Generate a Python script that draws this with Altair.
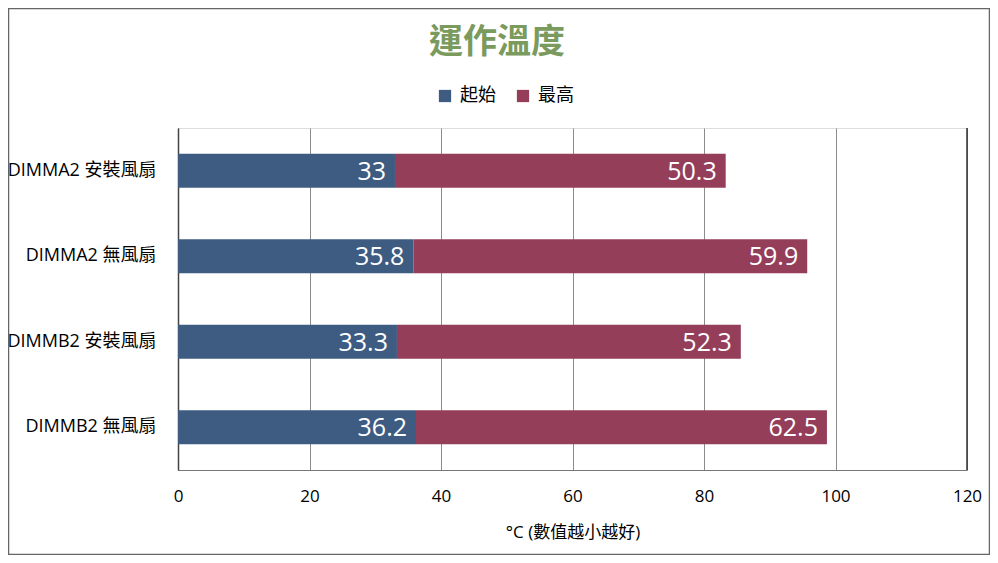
import altair as alt
import pandas as pd

title_text = "運作溫度"
categories = ["DIMMA2 安裝風扇", "DIMMA2 無風扇", "DIMMB2 安裝風扇", "DIMMB2 無風扇"]
start_vals = [33, 35.8, 33.3, 36.2]
max_vals = [50.3, 59.9, 52.3, 62.5]
series = ["起始", "最高"]
colors = ["#3E5C82", "#943E5A"]
x_ticks = [0, 20, 40, 60, 80, 100, 120]

rows = []
for c, s, m in zip(categories, start_vals, max_vals):
    rows.append({"cat": c, "series": series[0], "value": s, "order": 0, "end": s})
    rows.append({"cat": c, "series": series[1], "value": m, "order": 1, "end": s + m})
df = pd.DataFrame(rows)

FONT = "Noto Sans CJK TC"
LFONT = "'Open Sans', 'Noto Sans CJK TC'"
W, H = 789, 342

y_enc = alt.Y("cat:N", sort=categories, title=None,
              scale=alt.Scale(paddingInner=0.6, paddingOuter=0.3),
              axis=alt.Axis(labelFontSize=18, labelColor="#000000", labelFont=LFONT,
                            ticks=False, labelPadding=22, domainColor="#444444",
                            domainWidth=1.5))

bars = alt.Chart(df).mark_bar().encode(
    x=alt.X("value:Q", stack="zero", title="°C (數值越小越好)",
            scale=alt.Scale(domain=[0, 120]),
            axis=alt.Axis(values=x_ticks, labelFontSize=17, labelColor="#000000",
                          labelFont=LFONT, ticks=False, labelPadding=18,
                          labelFlush=False,
                          titleFontSize=17, titleFont=LFONT, titleFontWeight="normal",
                          titleColor="#000000", titlePadding=20,
                          grid=True, gridColor="#8c8c8c", domainColor="#777777")),
    y=y_enc,
    color=alt.Color("series:N", sort=series,
                    scale=alt.Scale(domain=series, range=colors),
                    legend=alt.Legend(title=None, orient="none", direction="horizontal",
                                      legendX=258, legendY=-41, symbolType="square",
                                      symbolSize=150, symbolStrokeWidth=0,
                                      labelFontSize=18, labelFont=FONT,
                                      labelColor="#000000", columnPadding=18,
                                      labelOffset=6)),
    order=alt.Order("order:Q"),
)

labels = alt.Chart(df).mark_text(align="right", baseline="middle", dx=-9, dy=1,
                                 color="white", fontSize=25, font=LFONT).encode(
    x=alt.X("end:Q"),
    y=alt.Y("cat:N", sort=categories),
    text=alt.Text("value:Q"),
)

right_edge = alt.Chart(pd.DataFrame({"v": [120]})).mark_rule(
    color="#333333", strokeWidth=1.5).encode(x=alt.X("v:Q"))

frame = alt.Chart(pd.DataFrame({"v": [0]})).mark_rect(
    fill=None, stroke="#666666", strokeWidth=1.5).encode(
    x=alt.value(-169.5), x2=alt.value(811.5), y=alt.value(-119.5), y2=alt.value(426.5))

title = alt.Chart(pd.DataFrame({"t": [title_text]})).mark_text(
    fontSize=34, font=FONT, fontWeight="bold", color="#7A9A5E",
    align="center", baseline="middle").encode(
    x=alt.value(319), y=alt.value(-85), text="t:N")

chart = alt.layer(bars, labels, right_edge, frame, title).properties(
    width=W, height=H,
    autosize=alt.AutoSizeParams(type="none"),
    padding={"left": 170, "top": 120, "right": 23, "bottom": 85},
).configure_view(stroke="#8c8c8c", strokeWidth=1.5).configure(background="white")

chart.save("out.html", embed_options={"renderer": "svg", "actions": False})
